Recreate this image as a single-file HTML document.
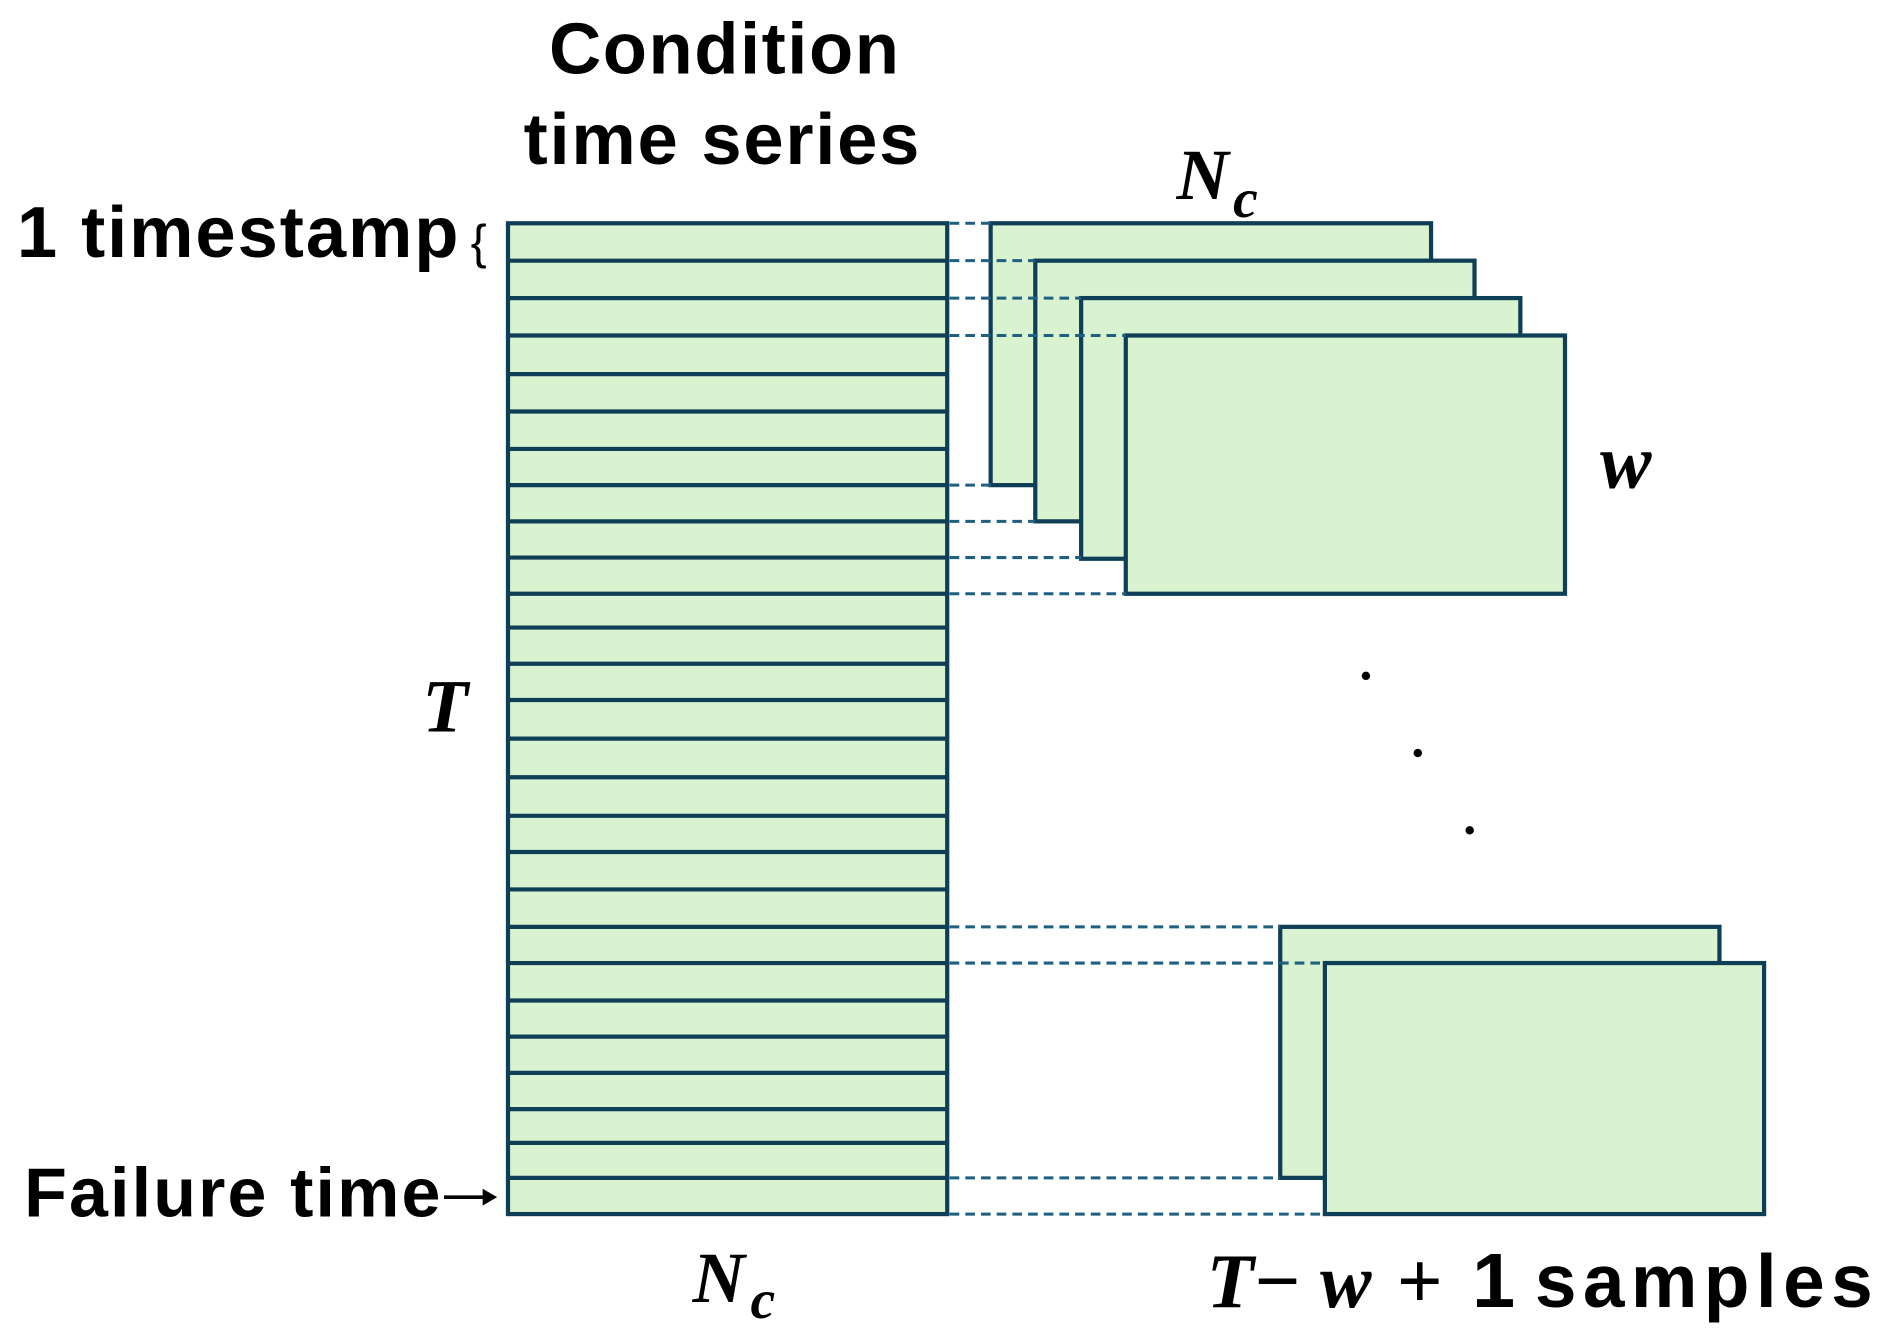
<!DOCTYPE html>
<html><head><meta charset="utf-8"><style>
html,body{margin:0;padding:0;background:#fff;}
svg{display:block;}
.t{font-family:"Liberation Sans",sans-serif;font-weight:bold;fill:#000;}
.m{font-family:"Liberation Serif",serif;font-weight:bold;font-style:italic;fill:#000;}
</style></head><body>
<svg width="1892" height="1342" viewBox="0 0 1568 1112" preserveAspectRatio="none" xmlns="http://www.w3.org/2000/svg">
<g stroke="#0f3f57" stroke-width="3.5" fill="#d9f2d0">
<rect x="421" y="185" width="364" height="821"/>
</g>
<g stroke="#0f3f57" stroke-width="3.5">
<line x1="421" x2="785" y1="216" y2="216"/><line x1="421" x2="785" y1="247" y2="247"/>
<line x1="421" x2="785" y1="278" y2="278"/><line x1="421" x2="785" y1="310" y2="310"/>
<line x1="421" x2="785" y1="341" y2="341"/><line x1="421" x2="785" y1="372" y2="372"/>
<line x1="421" x2="785" y1="402" y2="402"/><line x1="421" x2="785" y1="432" y2="432"/>
<line x1="421" x2="785" y1="462" y2="462"/><line x1="421" x2="785" y1="492" y2="492"/>
<line x1="421" x2="785" y1="520" y2="520"/><line x1="421" x2="785" y1="550" y2="550"/>
<line x1="421" x2="785" y1="580" y2="580"/><line x1="421" x2="785" y1="612" y2="612"/>
<line x1="421" x2="785" y1="644" y2="644"/><line x1="421" x2="785" y1="676" y2="676"/>
<line x1="421" x2="785" y1="706" y2="706"/><line x1="421" x2="785" y1="737" y2="737"/>
<line x1="421" x2="785" y1="768" y2="768"/><line x1="421" x2="785" y1="798" y2="798"/>
<line x1="421" x2="785" y1="829" y2="829"/><line x1="421" x2="785" y1="859" y2="859"/>
<line x1="421" x2="785" y1="889" y2="889"/><line x1="421" x2="785" y1="919" y2="919"/>
<line x1="421" x2="785" y1="947" y2="947"/><line x1="421" x2="785" y1="976" y2="976"/>
</g>
<g stroke="#0f3f57" stroke-width="3.5" fill="#d9f2d0">
<rect x="821" y="185" width="365" height="217"/>
<rect x="858" y="216" width="364" height="216"/>
<rect x="896" y="247" width="364" height="216"/>
<rect x="933" y="278" width="364" height="214"/>
<rect x="1061" y="768" width="364" height="208"/>
<rect x="1098" y="798" width="364" height="208"/>
</g>
<g stroke="#1f5f80" stroke-width="2.5" stroke-dasharray="8,5">
<line x1="787" x2="821" y1="185" y2="185"/>
<line x1="787" x2="858" y1="216" y2="216"/>
<line x1="787" x2="896" y1="247" y2="247"/>
<line x1="787" x2="933" y1="278" y2="278"/>
<line x1="787" x2="821" y1="402" y2="402"/>
<line x1="787" x2="858" y1="432" y2="432"/>
<line x1="787" x2="896" y1="462" y2="462"/>
<line x1="787" x2="933" y1="492" y2="492"/>
<line x1="787" x2="1061" y1="768" y2="768"/>
<line x1="787" x2="1098" y1="798" y2="798"/>
<line x1="787" x2="1061" y1="976" y2="976"/>
<line x1="787" x2="1098" y1="1006" y2="1006"/>
</g>
<circle cx="1132" cy="560" r="3.5" fill="#000"/>
<circle cx="1175" cy="624" r="3.5" fill="#000"/>
<circle cx="1218" cy="688" r="3.5" fill="#000"/>
<text class="t" x="600" y="61" font-size="60" text-anchor="middle" textLength="290">Condition</text>
<text class="t" x="598" y="136" font-size="60" text-anchor="middle" textLength="328">time series</text>
<text class="t" x="14" y="213" font-size="60" textLength="366">1 timestamp</text>
<text x="390" y="214" font-family="Liberation Sans,sans-serif" font-size="40" fill="#000">{</text>
<text class="t" x="20" y="1008" font-size="58" textLength="345">Failure time</text>
<line x1="368" y1="992" x2="404" y2="992" stroke="#000" stroke-width="3"/>
<polygon points="412,992 400,985 400,999" fill="#000"/>
<text class="m" x="350" y="606" font-size="62">T</text>
<text class="m" x="975" y="165" font-size="60">N</text><text class="m" x="1022" y="180" font-size="46">c</text>
<text class="m" x="1326" y="404" font-size="64">w</text>
<text class="m" x="574" y="1079" font-size="60">N</text><text class="m" x="622" y="1092" font-size="46">c</text>
<text class="m" x="1000" y="1083" font-size="64">T</text>
<text x="1040" y="1083" font-family="Liberation Sans,sans-serif" font-size="64" fill="#000">−</text>
<text class="m" x="1094" y="1083" font-size="64">w</text>
<text x="1158" y="1083" font-family="Liberation Sans,sans-serif" font-size="64" fill="#000">+</text>
<text class="t" x="1220" y="1083" font-size="64">1</text>
<text class="t" x="1272" y="1083" font-size="62" textLength="280">samples</text>
</svg>
</body></html>
